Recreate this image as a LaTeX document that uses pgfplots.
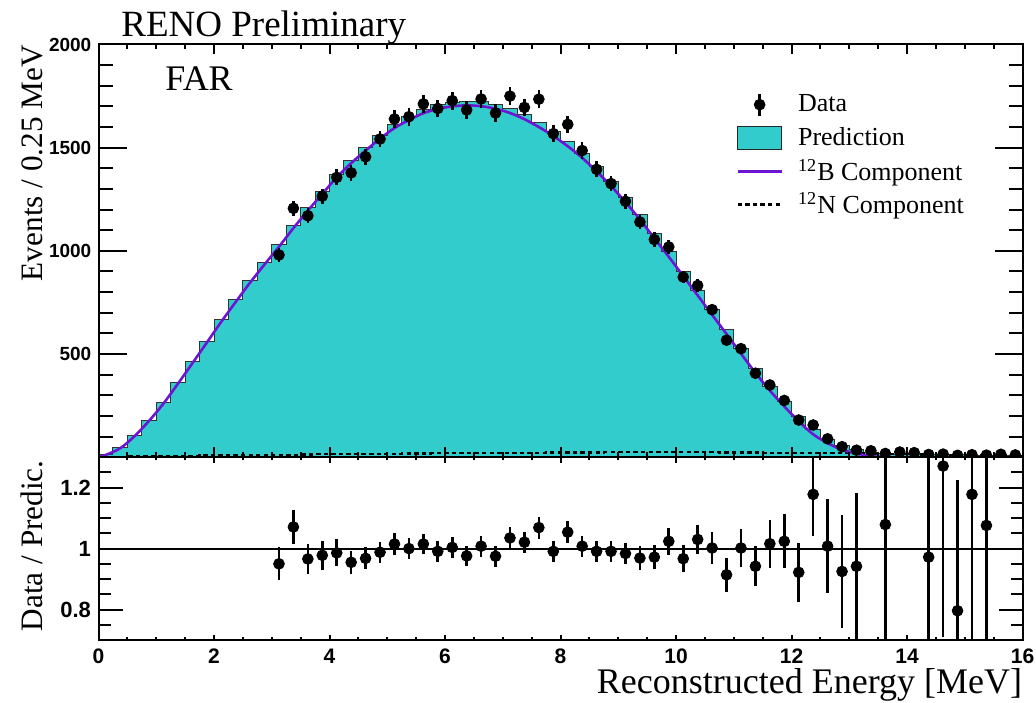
\documentclass[border=0pt]{standalone}
\usepackage{fontspec}
\setmainfont{Liberation Serif}
\newfontfamily\ticksf{Liberation Sans}
\usepackage{pgfplots}
\usepackage{pgfplotstable}
\pgfplotsset{compat=1.18}

\definecolor{predfill}{RGB}{51,204,204}
\definecolor{bcomp}{RGB}{108,22,212}

% prediction histogram: lower bin edge, total prediction, 12N part
\pgfplotstableread{
lo pred n12
0.00 12 1
0.25 45 2
0.50 105 3
0.75 180 4
1.00 265 5
1.25 362 6
1.50 462 7
1.75 563 8
2.00 665 9
2.25 762 10
2.50 856 10
2.75 945 11
3.00 1032 12
3.25 1122 12
3.50 1208 13
3.75 1290 14
4.00 1370 14
4.25 1440 15
4.50 1502 16
4.75 1560 16
5.00 1612 17
5.25 1652 18
5.50 1685 18
5.75 1707 19
6.00 1720 20
6.25 1725 20
6.50 1722 21
6.75 1710 21
7.00 1690 22
7.25 1660 22
7.50 1622 22
7.75 1580 23
8.00 1530 23
8.25 1474 23
8.50 1408 23
8.75 1338 24
9.00 1260 24
9.25 1176 24
9.50 1085 24
9.75 995 24
10.00 902 24
10.25 808 24
10.50 714 24
10.75 620 23
11.00 525 23
11.25 432 23
11.50 345 22
11.75 268 22
12.00 195 21
12.25 132 21
12.50 88 20
12.75 55 19
13.00 36 18
13.25 22 17
13.50 17 16
13.75 15 15
14.00 14 14
14.25 13 13
14.50 12 12
14.75 11 11
15.00 10 10
15.25 9 9
15.50 8 8
15.75 6 6
16.00 6 6
}\hist

% 12B component at bin centres
\pgfplotstableread{
E b12
0.000 0
0.125 11
0.375 43
0.625 102
0.875 176
1.125 260
1.375 356
1.625 455
1.875 555
2.125 656
2.375 752
2.625 846
2.875 934
3.125 1020
3.375 1110
3.625 1195
3.875 1276
4.125 1356
4.375 1425
4.625 1486
4.875 1544
5.125 1595
5.375 1634
5.625 1667
5.875 1688
6.125 1700
6.375 1705
6.625 1701
6.875 1689
7.125 1668
7.375 1638
7.625 1600
7.875 1557
8.125 1507
8.375 1451
8.625 1385
8.875 1314
9.125 1236
9.375 1152
9.625 1061
9.875 971
10.125 878
10.375 784
10.625 690
10.875 597
11.125 502
11.375 409
11.625 323
11.875 246
12.125 174
12.375 111
12.625 68
12.875 36
13.125 18
13.375 5
13.625 1
13.875 0
}\bcurve

% measured events per bin
\pgfplotstableread{
E N err
3.125 980 33
3.375 1206 36
3.625 1170 36
3.875 1265 37
4.125 1356 39
4.375 1378 39
4.625 1456 40
4.875 1542 41
5.125 1639 43
5.375 1650 43
5.625 1712 43
5.875 1690 43
6.125 1728 44
6.375 1683 43
6.625 1736 44
6.875 1668 43
7.125 1750 44
7.375 1695 43
7.625 1735 44
7.875 1568 42
8.125 1613 42
8.375 1486 40
8.625 1395 39
8.875 1326 38
9.125 1240 37
9.375 1140 35
9.625 1055 34
9.875 1019 34
10.125 873 31
10.375 832 30
10.625 715 28
10.875 567 25
11.125 526 24
11.375 407 21
11.625 350 19
11.875 275 17
12.125 180 13
12.375 156 12
12.625 89 9
12.875 51 7
13.125 34 6
13.375 31 6
13.625 18 4
13.875 25 5
14.125 22 5
14.375 13 4
14.625 15 4
14.875 9 3
15.125 12 3
15.375 10 3
15.625 14 4
15.875 11 3
}\data

% data / prediction
\pgfplotstableread{
E r err
3.125 0.950 0.054
3.375 1.071 0.055
3.625 0.966 0.048
3.875 0.978 0.047
4.125 0.986 0.044
4.375 0.955 0.037
4.625 0.968 0.036
4.875 0.988 0.035
5.125 1.015 0.035
5.375 1.000 0.034
5.625 1.015 0.034
5.875 0.991 0.034
6.125 1.004 0.034
6.375 0.976 0.034
6.625 1.008 0.034
6.875 0.975 0.034
7.125 1.035 0.035
7.375 1.021 0.035
7.625 1.069 0.036
7.875 0.991 0.035
8.125 1.054 0.035
8.375 1.008 0.035
8.625 0.991 0.034
8.875 0.991 0.034
9.125 0.984 0.036
9.375 0.969 0.038
9.625 0.972 0.040
9.875 1.024 0.044
10.125 0.967 0.045
10.375 1.030 0.048
10.625 1.002 0.053
10.875 0.914 0.056
11.125 1.002 0.062
11.375 0.942 0.066
11.625 1.016 0.079
11.875 1.024 0.088
12.125 0.922 0.096
12.375 1.178 0.137
12.625 1.008 0.154
12.875 0.925 0.184
13.125 0.942 0.240
13.625 1.079 0.420
14.375 0.972 0.450
14.625 1.271 0.560
14.875 0.796 0.430
15.125 1.178 0.500
15.375 1.076 0.450
}\ratio

\tikzset{ncomp/.style={black, line width=1.1pt, dash pattern=on 2.2pt off 1.6pt}}

\pgfplotsset{
  panel/.style={
    scale only axis, width=462pt, xmin=0, xmax=16,
    anchor=south west,
    axis line style={line width=1pt},
    tick style={black, line width=1pt},
    tick align=inside, xtick pos=both, ytick pos=both,
    yticklabel pos=left, xticklabel pos=bottom,
    tick label style={font=\fontsize{10.5}{12}\ticksf\bfseries},
    /pgf/number format/assume math mode=true,
    /pgf/number format/1000 sep={},
  },
  datapts/.style={
    black, only marks, mark=*, mark size=2.7pt,
    error bars/y dir=both, error bars/y explicit,
    error bars/error mark=none,
    error bars/error bar style={line width=1.3pt, black},
  },
}

\begin{document}
\begin{tikzpicture}
\path[use as bounding box] (0,0) rectangle (518pt,351pt);

% ---------- upper panel: spectrum ----------
\begin{axis}[panel, at={(49.25pt,122.4pt)}, height=206.35pt,
  ymin=0, ymax=2000,
  xtick=\empty,
  ytick={500,1000,1500,2000},
  minor ytick={100,200,300,400,600,700,800,900,1100,1200,1300,1400,1600,1700,1800,1900},
  major tick length=14pt, minor tick length=7pt,
  yticklabel style={anchor=east, inner sep=0pt, xshift=-3.4pt,
    font=\fontsize{9.5}{11}\ticksf\bfseries},
  axis on top, clip marker paths=true,
  legend style={draw=none, fill=none, at={(0.69,0.885)}, anchor=north west,
    inner sep=0pt, row sep=4.6pt,
    font=\fontsize{13}{15}\selectfont,
    nodes={inner sep=0pt, outer sep=0pt},
    cells={anchor=west}},
  legend cell align=left,
]
\addlegendimage{legend image code/.code={
  \draw[line width=1.3pt] (11pt,-5.5pt) -- (11pt,5.5pt);
  \fill (11pt,0pt) circle (2.7pt);
  \path (30pt,0pt);}}
\addlegendentry{Data}
\addlegendimage{legend image code/.code={
  \draw[fill=predfill, draw=black!85, line width=0.6pt] (0pt,-5.75pt) rectangle (22pt,5.75pt);
  \path (30pt,0pt);}}
\addlegendentry{Prediction}
\addlegendimage{legend image code/.code={
  \draw[bcomp, line width=1.2pt] (0pt,0pt) -- (22pt,0pt);
  \path (30pt,0pt);}}
\addlegendentry{\textsuperscript{12}B Component}
\addlegendimage{legend image code/.code={
  \draw[ncomp] (0pt,0pt) -- (22pt,0pt);
  \path (30pt,0pt);}}
\addlegendentry{\textsuperscript{12}N Component}

\addplot[fill=predfill, draw=black!80, line width=0.5pt, const plot, forget plot]
  table[x=lo, y=pred] {\hist} \closedcycle;
\addplot[ncomp, const plot, forget plot]
  table[x=lo, y=n12] {\hist};
\addplot[bcomp, line width=1.3pt, smooth, forget plot]
  table[x=E, y=b12] {\bcurve};
\addplot[forget plot, datapts] table[x=E, y=N, y error=err] {\data};
\end{axis}

% energy ticks of the upper panel
\begin{axis}[panel, at={(49.25pt,122.4pt)}, height=206.35pt,
  ymin=0, ymax=2000, ytick=\empty,
  xtick={0,2,...,16}, minor x tick num=3, xticklabels={},
  major tick length=5pt, minor tick length=2.5pt,
]
\end{axis}

% ---------- lower panel: ratio ----------
\begin{axis}[panel, at={(49.25pt,31pt)}, height=91.4pt,
  ymin=0.7, ymax=1.3,
  xtick=\empty,
  ytick={0.8,1,1.2},
  minor ytick={0.75,0.85,0.9,0.95,1.05,1.1,1.15,1.25},
  major tick length=12pt, minor tick length=6pt,
  yticklabel style={anchor=east, inner sep=0pt, xshift=-3.6pt,
    font=\fontsize{11}{13}\ticksf\bfseries},
]
\addplot[black, line width=1pt] coordinates {(0,1) (16,1)};
\addplot[datapts] table[x=E, y=r, y error=err] {\ratio};
\end{axis}

\begin{axis}[panel, at={(49.25pt,31pt)}, height=91.4pt,
  ymin=0.7, ymax=1.3, ytick=\empty,
  xtick={0,2,...,16}, minor x tick num=3,
  major tick length=2.75pt, minor tick length=1.6pt,
  xticklabel style={anchor=north, inner sep=0pt, yshift=-4.15pt},
]
\end{axis}

% titles and axis names
\node[anchor=base west, inner sep=0pt, font=\fontsize{18.5}{22}\selectfont]
  at (60.5pt,332.6pt) {RENO Preliminary};
\node[anchor=base west, inner sep=0pt, font=\fontsize{18}{21}\selectfont]
  at (82.5pt,305.6pt) {FAR};
\node[anchor=base east, inner sep=0pt, font=\fontsize{18}{21}\selectfont]
  at (511.25pt,4.3pt) {Reconstructed Energy [MeV]};
\node[rotate=90, anchor=base east, inner sep=0pt, font=\fontsize{15.6}{19}\selectfont]
  at (21pt,328.5pt) {Events / 0.25 MeV};
\node[rotate=90, anchor=base east, inner sep=0pt, font=\fontsize{15.6}{19}\selectfont]
  at (21pt,121pt) {Data / Predic.};
\end{tikzpicture}
\end{document}
